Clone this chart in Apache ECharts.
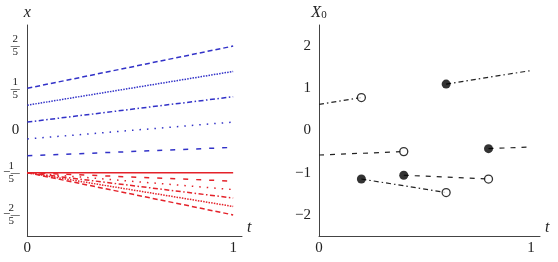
<!DOCTYPE html>
<html>
<head>
<meta charset="utf-8">
<script src="https://cdn.jsdelivr.net/npm/echarts@6/dist/echarts.min.js"></script>
<style>
  html, body { margin: 0; padding: 0; background: #fff; }
  #chart { width: 558px; height: 262px; }
</style>
</head>
<body>
<div id="chart"></div>
<script>
// 左图：蓝色（起点/终点），红色（都从 -1/5 出发）
const blueStart = [0.2, 0.12, 0.04, -0.04, -0.12];
const blueEnd = [0.4, 0.28, 0.16, 0.04, -0.08];
const blueDash = [[5, 3], [1.5, 1.2], [5, 2.5, 1.5, 2.5], [1.5, 6], [5, 8]];
const redStart = [-0.2, -0.2, -0.2, -0.2, -0.2, -0.2];
const redEnd = [-0.2, -0.24, -0.28, -0.32, -0.36, -0.4];
const redDash = ['solid', [5, 8], [1.5, 6], [5, 2.5, 1.5, 2.5], [1.5, 1.2], [5, 3]];

// 右图：分段 [t0, x0] -> [t1, x1]
const segStartT = [0, 0.6, 0, 0.8, 0.2, 0.4];
const segStartX = [0.62, 1.1, -0.58, -0.43, -1.15, -1.06];
const segEndT = [0.2, 1, 0.4, 1, 0.6, 0.8];
const segEndX = [0.78, 1.42, -0.5, -0.39, -1.47, -1.15];
const segDash = [[5, 3, 1.5, 3], [5, 3, 1.5, 3], [5, 6], [5, 6], [5, 3, 1.5, 3], [5, 6]];
const filledPts = [[0.6, 1.1], [0.8, -0.43], [0.2, -1.15], [0.4, -1.06]];
const openPts = [[0.2, 0.78], [0.4, -0.5], [0.6, -1.47], [0.8, -1.15]];

const xTicks = [0, 1];
const leftYTicks = [-0.4, -0.2, 0, 0.2, 0.4];
const rightYTicks = [-2, -1, 0, 1, 2];

const FONT = "'Liberation Serif', 'DejaVu Serif', serif";
const BLUE = '#3232c8';
const RED = '#e4222a';
const AXIS = '#444';
const TXT = '#222';

// 分数标签：分子 / 横线 / 分母
const fracLabel = (v) => {
    if (Math.abs(v) < 1e-9) return '{z|0}';
    const n = Math.round(Math.abs(v) * 5);
    const minus = v < 0 ? '{m|\u2212}' : '';
    return `{n|${n}}\n${minus}{b|\u2014}\n{d|5}`;
};

const fracRich = {
    z: { fontFamily: FONT, fontSize: 15, color: TXT },
    n: { fontFamily: FONT, fontSize: 11, color: TXT, width: 8, align: 'center', lineHeight: 10 },
    d: { fontFamily: FONT, fontSize: 11, color: TXT, width: 8, align: 'center', lineHeight: 10 },
    b: { fontFamily: FONT, fontSize: 9, fontWeight: 'bold', color: TXT, width: 8, align: 'center', lineHeight: 3 },
    m: { fontFamily: FONT, fontSize: 13, color: TXT, lineHeight: 3, padding: [0, 1, 0, 0] }
};

const xAxisCommon = (gridIndex) => ({
    gridIndex,
    type: 'value',
    min: 0,
    max: 1.043,
    name: 't',
    nameLocation: 'end',
    nameGap: 5,
    nameTextStyle: { fontFamily: FONT, fontStyle: 'italic', fontSize: 16, color: TXT, verticalAlign: 'bottom' },
    axisLine: { onZero: false, lineStyle: { color: AXIS, width: 1 } },
    axisTick: { show: false },
    splitLine: { show: false },
    axisLabel: {
        customValues: xTicks,
        margin: 5,
        fontFamily: FONT,
        fontSize: 15,
        color: TXT
    }
});

const series = [];
blueStart.forEach((s, i) => {
    series.push({
        type: 'line', xAxisIndex: 0, yAxisIndex: 0,
        showSymbol: false, symbol: 'none', silent: true,
        lineStyle: { color: BLUE, width: 1.5, type: blueDash[i] },
        data: [[0, s], [1, blueEnd[i]]]
    });
});
redStart.forEach((s, i) => {
    series.push({
        type: 'line', xAxisIndex: 0, yAxisIndex: 0,
        showSymbol: false, symbol: 'none', silent: true,
        lineStyle: { color: RED, width: 1.5, type: redDash[i] },
        data: [[0, s], [1, redEnd[i]]]
    });
});
segStartT.forEach((t, i) => {
    series.push({
        type: 'line', xAxisIndex: 1, yAxisIndex: 1,
        showSymbol: false, symbol: 'none', silent: true,
        lineStyle: { color: TXT, width: 1.2, type: segDash[i] },
        data: [[t, segStartX[i]], [segEndT[i], segEndX[i]]]
    });
});
series.push({
    type: 'scatter', xAxisIndex: 1, yAxisIndex: 1, z: 5,
    symbolSize: 9,
    itemStyle: { color: '#000' },
    data: filledPts
});
series.push({
    type: 'scatter', xAxisIndex: 1, yAxisIndex: 1, z: 5,
    symbolSize: 8,
    itemStyle: { color: '#fff', borderColor: '#000', borderWidth: 1.3 },
    data: openPts
});

const chart = echarts.init(document.getElementById('chart'), null, { renderer: 'canvas' });
chart.setOption({
    animation: false,
    backgroundColor: '#fff',
    textStyle: { fontFamily: FONT },
    grid: [
        { left: 22, top: 25, width: 220, height: 211 },
        { left: 319, top: 25, width: 221, height: 211 }
    ],
    xAxis: [xAxisCommon(0), xAxisCommon(1)],
    yAxis: [
        {
            gridIndex: 0,
            type: 'value',
            min: -0.5,
            max: 0.5,
            name: 'x',
            nameLocation: 'end',
            nameGap: 4,
            nameTextStyle: { fontFamily: FONT, fontStyle: 'italic', fontSize: 16, color: TXT },
            axisLine: { show: true, onZero: false, lineStyle: { color: AXIS, width: 1 } },
            axisTick: { show: false },
            splitLine: { show: false },
            axisLabel: {
                customValues: leftYTicks,
                margin: 8,
                formatter: fracLabel,
                rich: fracRich
            }
        },
        {
            gridIndex: 1,
            type: 'value',
            min: -2.5,
            max: 2.5,
            name: '{a|X}{s|0}',
            nameLocation: 'end',
            nameGap: 4,
            nameTextStyle: {
                rich: {
                    a: { fontFamily: FONT, fontStyle: 'italic', fontSize: 16, color: TXT },
                    s: { fontFamily: FONT, fontSize: 11, color: TXT, padding: [6, 0, 0, 0] }
                }
            },
            axisLine: { show: true, onZero: false, lineStyle: { color: AXIS, width: 1 } },
            axisTick: { show: false },
            splitLine: { show: false },
            axisLabel: {
                customValues: rightYTicks,
                margin: 8,
                fontFamily: FONT,
                fontSize: 15,
                color: TXT,
                formatter: (v) => (v < 0 ? '\u2212' + Math.abs(v) : String(v))
            }
        }
    ],
    series
});
</script>
</body>
</html>
